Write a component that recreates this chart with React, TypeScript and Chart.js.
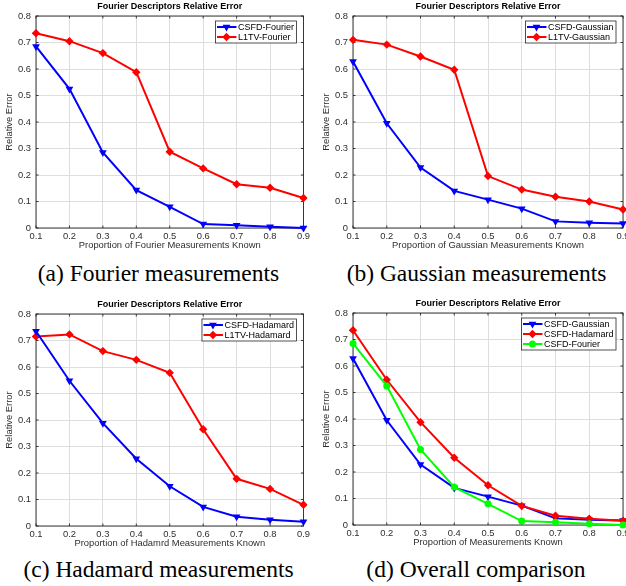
import React, { useEffect, useRef } from 'react';
import Chart from 'chart.js/auto';

const X_LABELS = ['0.1', '0.2', '0.3', '0.4', '0.5', '0.6', '0.7', '0.8', '0.9'];
const Y_TICK_LABELS = ['0', '0.1', '0.2', '0.3', '0.4', '0.5', '0.6', '0.7', '0.8'];
const CHART_TITLE = 'Fourier Descriptors Relative Error';
const Y_TITLE = 'Relative Error';

const CSFD_FOURIER = [0.685, 0.525, 0.285, 0.143, 0.08, 0.015, 0.01, 0.005, 0.0];
const L1TV_FOURIER = [0.735, 0.705, 0.66, 0.588, 0.288, 0.225, 0.165, 0.152, 0.113];
const CSFD_GAUSSIAN = [0.628, 0.395, 0.228, 0.14, 0.107, 0.073, 0.025, 0.02, 0.017];
const L1TV_GAUSSIAN = [0.71, 0.692, 0.647, 0.597, 0.196, 0.145, 0.118, 0.1, 0.07];
const CSFD_HADAMARD = [0.735, 0.548, 0.388, 0.254, 0.15, 0.072, 0.035, 0.024, 0.016];
const L1TV_HADAMARD = [0.715, 0.723, 0.66, 0.627, 0.578, 0.365, 0.178, 0.14, 0.08];

const FONT = '"Liberation Sans", Arial, Helvetica, sans-serif';
const SERIF = '"Liberation Serif", "Times New Roman", serif';
const BLUE = '#0000ff';
const RED = '#ff0000';
const GREEN = '#00ff00';
const TXT = '#2e2e2e';

type Marker = 'tri' | 'dia' | 'circ';
type Series = { label: string; data: number[]; color: string; marker: Marker; order: number };

function markerProps(m: Marker) {
  if (m === 'tri') return { pointStyle: 'triangle', pointRotation: 180, pointRadius: 4.5 };
  if (m === 'dia') return { pointStyle: 'rectRot', pointRotation: 0, pointRadius: 4.2 };
  return { pointStyle: 'circle', pointRotation: 0, pointRadius: 3.5 };
}

function drawMarker(ctx: CanvasRenderingContext2D, m: Marker, x: number, y: number, color: string) {
  ctx.save();
  ctx.fillStyle = color;
  ctx.beginPath();
  if (m === 'tri') {
    const r = 4.5;
    ctx.moveTo(x, y + r);
    ctx.lineTo(x - r * Math.sin(Math.PI / 3), y - r / 2);
    ctx.lineTo(x + r * Math.sin(Math.PI / 3), y - r / 2);
    ctx.closePath();
  } else if (m === 'dia') {
    const r = 4.2;
    ctx.moveTo(x, y - r);
    ctx.lineTo(x + r, y);
    ctx.lineTo(x, y + r);
    ctx.lineTo(x - r, y);
    ctx.closePath();
  } else {
    ctx.arc(x, y, 3.5, 0, Math.PI * 2);
  }
  ctx.fill();
  ctx.restore();
}

type PanelProps = {
  left: number;
  top: number;
  canvasWidth: number;
  canvasHeight: number;
  padLeft: number;
  padRight: number;
  xTitle: string;
  series: Series[];
};

function Panel(props: PanelProps) {
  const ref = useRef<HTMLCanvasElement | null>(null);
  useEffect(() => {
    if (!ref.current) return;
    const series = props.series;
    const boxPlugin = {
      id: 'boxPlugin',
      beforeDatasetsDraw(chart: any) {
        const ctx = chart.ctx;
        const ca = chart.chartArea;
        ctx.save();
        ctx.strokeStyle = '#262626';
        ctx.lineWidth = 0.9;
        ctx.strokeRect(ca.left, ca.top, ca.right - ca.left, ca.bottom - ca.top);
        const xs = chart.scales.x;
        const ys = chart.scales.y;
        ctx.beginPath();
        for (let i = 0; i < X_LABELS.length; i++) {
          const px = xs.getPixelForTick(i);
          ctx.moveTo(px, ca.bottom);
          ctx.lineTo(px, ca.bottom - 2.5);
          ctx.moveTo(px, ca.top);
          ctx.lineTo(px, ca.top + 2.5);
        }
        for (let i = 0; i < ys.ticks.length; i++) {
          const py = ys.getPixelForTick(i);
          ctx.moveTo(ca.left, py);
          ctx.lineTo(ca.left + 2.5, py);
          ctx.moveTo(ca.right, py);
          ctx.lineTo(ca.right - 2.5, py);
        }
        ctx.stroke();
        ctx.restore();
      },
    };
    const legendPlugin = {
      id: 'boxLegend',
      afterDraw(chart: any) {
        const ctx = chart.ctx;
        const ca = chart.chartArea;
        ctx.save();
        ctx.font = `9px ${FONT}`;
        let maxW = 0;
        series.forEach((s) => {
          maxW = Math.max(maxW, ctx.measureText(s.label).width);
        });
        const w = 23 + maxW + 2;
        const h = series.length * 10 + 2;
        const x0 = ca.right - 7 - w;
        const y0 = ca.top + 5;
        ctx.fillStyle = '#ffffff';
        ctx.fillRect(x0, y0, w, h);
        ctx.strokeStyle = '#262626';
        ctx.lineWidth = 0.8;
        ctx.strokeRect(x0, y0, w, h);
        series.forEach((s, i) => {
          const y = y0 + 6 + i * 10;
          ctx.strokeStyle = s.color;
          ctx.lineWidth = 2;
          ctx.beginPath();
          ctx.moveTo(x0 + 1.5, y);
          ctx.lineTo(x0 + 21, y);
          ctx.stroke();
          drawMarker(ctx, s.marker, x0 + 11, y, s.color);
          ctx.fillStyle = '#000000';
          ctx.textBaseline = 'middle';
          ctx.textAlign = 'left';
          ctx.fillText(s.label, x0 + 22.5, y + 0.5);
        });
        ctx.restore();
      },
    };
    const chart = new Chart(ref.current, {
      type: 'line',
      data: {
        labels: X_LABELS,
        datasets: series.map((s) => ({
          label: s.label,
          data: s.data,
          borderColor: s.color,
          backgroundColor: s.color,
          borderWidth: 2,
          pointBorderWidth: 0,
          pointBackgroundColor: s.color,
          pointBorderColor: s.color,
          order: s.order,
          tension: 0,
          clip: 4,
          ...markerProps(s.marker),
        })) as any,
      },
      options: {
        responsive: false,
        animation: false,
        events: [],
        layout: { padding: { left: props.padLeft, right: props.padRight, top: 0, bottom: 0 } },
        plugins: {
          legend: { display: false },
          tooltip: { enabled: false },
          title: {
            display: true,
            fullSize: false,
            text: CHART_TITLE,
            color: '#000000',
            font: { family: FONT, size: 9, weight: 'bold', lineHeight: 1.2 },
            padding: { top: 0.8, bottom: 4.4 },
          },
        },
        scales: {
          x: {
            type: 'category',
            offset: false,
            grid: { color: '#dedede', lineWidth: 1, drawTicks: false, offset: false },
            border: { display: false },
            ticks: {
              padding: 3,
              color: TXT,
              font: { family: FONT, size: 9.4 },
              maxRotation: 0,
              autoSkip: false,
            },
            title: {
              display: true,
              text: props.xTitle,
              color: TXT,
              font: { family: FONT, size: 9.4 },
              padding: { top: 0, bottom: 1 },
            },
            afterFit: (s: any) => {
              s.height = 24;
            },
          },
          y: {
            type: 'linear',
            min: 0,
            max: 0.8,
            grid: { color: '#dedede', lineWidth: 1, drawTicks: false },
            border: { display: false },
            ticks: {
              stepSize: 0.1,
              padding: 5,
              color: TXT,
              font: { family: FONT, size: 9.4 },
              callback: (_v: any, i: number) => Y_TICK_LABELS[i],
            },
            title: {
              display: true,
              text: Y_TITLE,
              color: TXT,
              font: { family: FONT, size: 9.4 },
              padding: { top: 4, bottom: 0 },
            },
            afterFit: (s: any) => {
              s.width = 36;
            },
          },
        },
      } as any,
      plugins: [boxPlugin, legendPlugin],
    });
    return () => chart.destroy();
  }, []);
  return (
    <div
      style={{
        position: 'absolute',
        left: props.left,
        top: props.top,
        width: 313,
        height: props.canvasHeight,
        overflow: 'hidden',
      }}
    >
      <canvas
        ref={ref}
        width={props.canvasWidth}
        height={props.canvasHeight}
        style={{ display: 'block', width: props.canvasWidth, height: props.canvasHeight }}
      />
    </div>
  );
}

function Caption(props: { text: string; center: number; top: number }) {
  return (
    <div
      style={{
        position: 'absolute',
        left: props.center - 200,
        top: props.top,
        width: 400,
        textAlign: 'center',
        fontFamily: SERIF,
        fontSize: 23.5,
        lineHeight: '26px',
        color: '#000',
        whiteSpace: 'nowrap',
      }}
    >
      {props.text}
    </div>
  );
}

export default function App() {
  return (
    <div style={{ position: 'absolute', left: 0, top: 0, width: 626, height: 586, background: '#fff', overflow: 'hidden' }}>
      <Panel
        left={0}
        top={0}
        canvasWidth={313}
        canvasHeight={252}
        padLeft={0}
        padRight={9}
        xTitle="Proportion of Fourier Measurements Known"
        series={[
          { label: 'CSFD-Fourier', data: CSFD_FOURIER, color: BLUE, marker: 'tri', order: 1 },
          { label: 'L1TV-Fourier', data: L1TV_FOURIER, color: RED, marker: 'dia', order: 0 },
        ]}
      />
      <Panel
        left={313}
        top={0}
        canvasWidth={322}
        canvasHeight={252}
        padLeft={4}
        padRight={12}
        xTitle="Proportion of Gaussian Measurements Known"
        series={[
          { label: 'CSFD-Gaussian', data: CSFD_GAUSSIAN, color: BLUE, marker: 'tri', order: 1 },
          { label: 'L1TV-Gaussian', data: L1TV_GAUSSIAN, color: RED, marker: 'dia', order: 0 },
        ]}
      />
      <Panel
        left={0}
        top={298}
        canvasWidth={313}
        canvasHeight={252}
        padLeft={0}
        padRight={9}
        xTitle="Proportion of Hadamrd Measurements Known"
        series={[
          { label: 'CSFD-Hadamard', data: CSFD_HADAMARD, color: BLUE, marker: 'tri', order: 0 },
          { label: 'L1TV-Hadamard', data: L1TV_HADAMARD, color: RED, marker: 'dia', order: 1 },
        ]}
      />
      <Panel
        left={313}
        top={297}
        canvasWidth={322}
        canvasHeight={252}
        padLeft={4}
        padRight={12}
        xTitle="Proportion of Measurements Known"
        series={[
          { label: 'CSFD-Gaussian', data: CSFD_GAUSSIAN, color: BLUE, marker: 'tri', order: 2 },
          { label: 'CSFD-Hadamard', data: CSFD_HADAMARD, color: RED, marker: 'dia', order: 1 },
          { label: 'CSFD-Fourier', data: CSFD_FOURIER, color: GREEN, marker: 'circ', order: 0 },
        ]}
      />
      <Caption text="(a) Fourier measurements" center={158.5} top={260} />
      <Caption text="(b) Gaussian measurements" center={476.5} top={260} />
      <Caption text="(c) Hadamard measurements" center={158.5} top={556} />
      <Caption text="(d) Overall comparison" center={476} top={556} />
    </div>
  );
}
